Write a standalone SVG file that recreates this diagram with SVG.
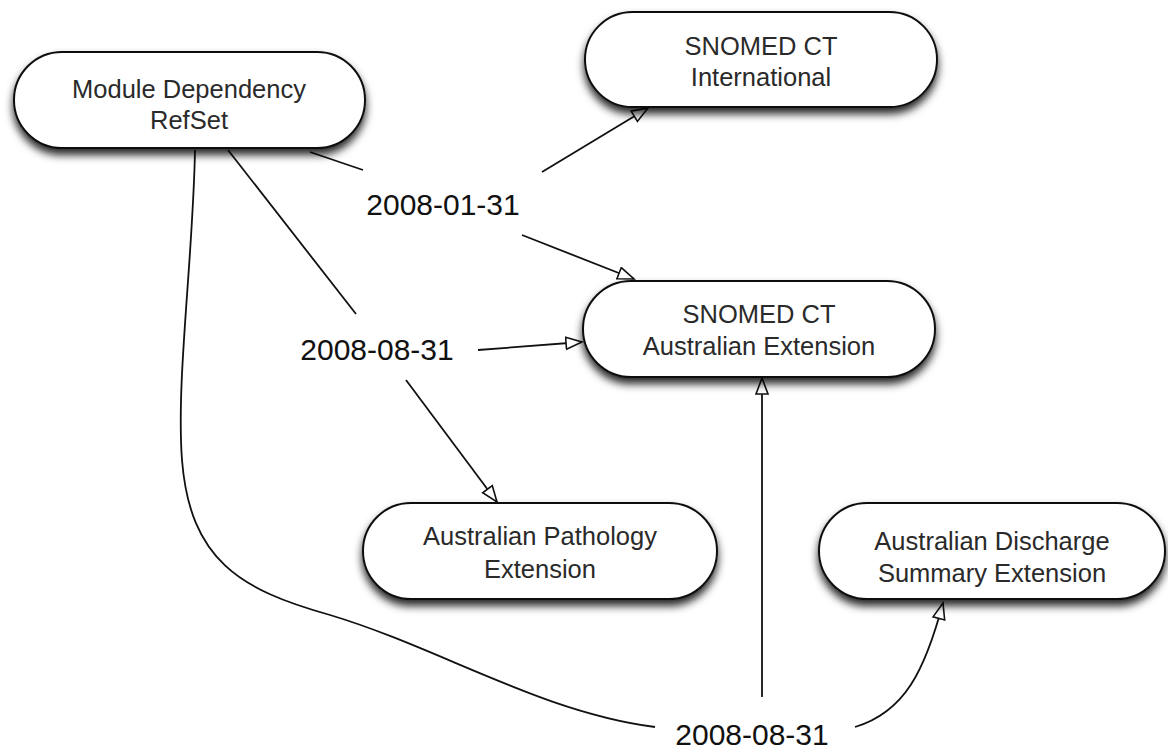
<svg xmlns="http://www.w3.org/2000/svg" width="1168" height="750" viewBox="0 0 1168 750">
<style>
.box{fill:#fff;stroke:#111;stroke-width:2;filter:url(#sh)}
.nt{font-family:"Liberation Sans",Arial,sans-serif;font-size:25.5px;fill:#2a2a2a;text-anchor:middle}
.lb{font-family:"Liberation Sans",Arial,sans-serif;font-size:30px;fill:#111;text-anchor:middle}
.c{fill:none;stroke:#111;stroke-width:1.8}
.a{marker-end:url(#ah)}
</style>
<defs>
<filter id="sh" x="-10%" y="-20%" width="120%" height="150%">
<feDropShadow dx="0" dy="6" stdDeviation="4.5" flood-color="#000" flood-opacity="0.85"/>
</filter>
<marker id="ah" markerUnits="userSpaceOnUse" markerWidth="22" markerHeight="18" refX="17" refY="7" orient="auto">
<path d="M1,1 L17,7 L1,13 Z" fill="#fff" stroke="#111" stroke-width="1.6"/>
</marker>
</defs>
<rect width="1168" height="750" fill="#fff"/>
<g id="connectors">
<path class="c" d="M310,152 L363,170"/>
<path class="c a" d="M542,172 L648,108"/>
<path class="c a" d="M522,235 L634,279"/>
<path class="c" d="M228,150 L356,314"/>
<path class="c a" d="M478,350 L582,342"/>
<path class="c a" d="M406,380 L497,502"/>
<path class="c" d="M195,150 C193,260 176,380 182,460 C190,560 240,590 330,615 C440,648 540,712 655,727"/>
<path class="c a" d="M762,697 L762,378"/>
<path class="c a" d="M855,727 C905,712 925,670 943,603"/>
</g>
<g id="n-module">
<rect class="box" x="14" y="52" width="351" height="96" rx="48"/>
<text class="nt" x="189" y="98">Module Dependency</text>
<text class="nt" x="189" y="129">RefSet</text>
</g>
<g id="n-intl">
<rect class="box" x="585" y="12" width="352" height="95" rx="47.5"/>
<text class="nt" x="761" y="55">SNOMED CT</text>
<text class="nt" x="761" y="86">International</text>
</g>
<g id="n-au">
<rect class="box" x="583" y="281" width="352" height="96" rx="48"/>
<text class="nt" x="759" y="323">SNOMED CT</text>
<text class="nt" x="759" y="355">Australian Extension</text>
</g>
<g id="n-path">
<rect class="box" x="363" y="503" width="354" height="96" rx="48"/>
<text class="nt" x="540" y="545">Australian Pathology</text>
<text class="nt" x="540" y="578">Extension</text>
</g>
<g id="n-disch">
<rect class="box" x="819" y="503" width="346" height="96" rx="48"/>
<text class="nt" x="992" y="550">Australian Discharge</text>
<text class="nt" x="992" y="582">Summary Extension</text>
</g>
<g id="labels">
<text class="lb" x="443" y="215">2008-01-31</text>
<text class="lb" x="377" y="360">2008-08-31</text>
<text class="lb" x="752" y="745">2008-08-31</text>
</g>
</svg>
